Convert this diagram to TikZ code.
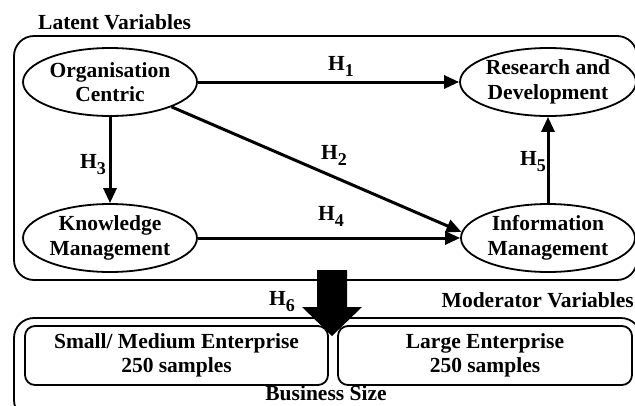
\documentclass[tikz,border=0pt]{standalone}
\usepackage{fontspec}
\setmainfont{Liberation Serif}
\usetikzlibrary{shapes.geometric,arrows.meta}
\newcommand{\hsub}[1]{H\raisebox{-6pt}{\fontsize{18}{18}\selectfont #1}}
\begin{document}
\begin{tikzpicture}[x=1pt,y=-1pt,
  every node/.style={font=\fontsize{21.5}{24.5}\selectfont\bfseries, align=center},
  var/.style={ellipse, draw, line width=1.8pt, minimum width=174pt, minimum height=68pt, inner sep=0pt},
  grp/.style={draw, line width=1.8pt, rounded corners=20pt},
  subgrp/.style={draw, line width=1.8pt, rounded corners=10pt, minimum height=59pt, inner sep=0pt},
  hyp/.style={line width=3pt, -{Triangle[length=15pt,width=13pt]}},
  lbl/.style={inner sep=0pt}]
\useasboundingbox (0,0) rectangle (635,405);
\begin{scope}
\clip (0,0) rectangle (635,405);
\draw[grp] (14,36) rectangle (637,280);
\draw[grp] (14,318) rectangle (641,420);
\end{scope}
\node[lbl, anchor=west] (lv) at (38,22) {Latent Variables};
\node[lbl, anchor=east] (mv) at (634,300) {Moderator Variables};
\node[lbl] (bs) at (326,393) {Business Size};

\node[var] (oc) at (110,82) {Organisation\\Centric};
\node[var] (rd) at (548,82) {Research and\\Development};
\node[var] (km) at (110,238) {Knowledge\\Management};
\node[var] (im) at (548,238) {Information\\Management};

\node[subgrp, minimum width=303pt] (sme) at (176.5,355.5) {Small/ Medium Enterprise\\250 samples};
\node[subgrp, minimum width=294pt] (le) at (485,355.5) {Large Enterprise\\250 samples};

\draw[hyp] (oc.east) -- (rd.west);
\draw[hyp] (oc.-22) -- (im.176);
\draw[hyp] (oc.south) -- (km.north);
\draw[hyp] (km.east) -- (im.west);
\draw[hyp] (im.north) -- (rd.south);

\node[lbl] (h1) at (341,66) {\hsub{1}};
\node[lbl] (h2) at (334,155) {\hsub{2}};
\node[lbl] (h3) at (93,165) {\hsub{3}};
\node[lbl] (h4) at (331,216) {\hsub{4}};
\node[lbl] (h5) at (533,162) {\hsub{5}};
\node[lbl] (h6) at (282,302) {\hsub{6}};

\coordinate (mtop) at (332,270);
\coordinate (mtip) at (332,336);
\fill ([xshift=-15pt]mtop) -- ([xshift=15pt]mtop) -- (347,307) -- (362,307) -- (mtip) -- (302,307) -- (317,307) -- cycle;
\end{tikzpicture}
\end{document}
